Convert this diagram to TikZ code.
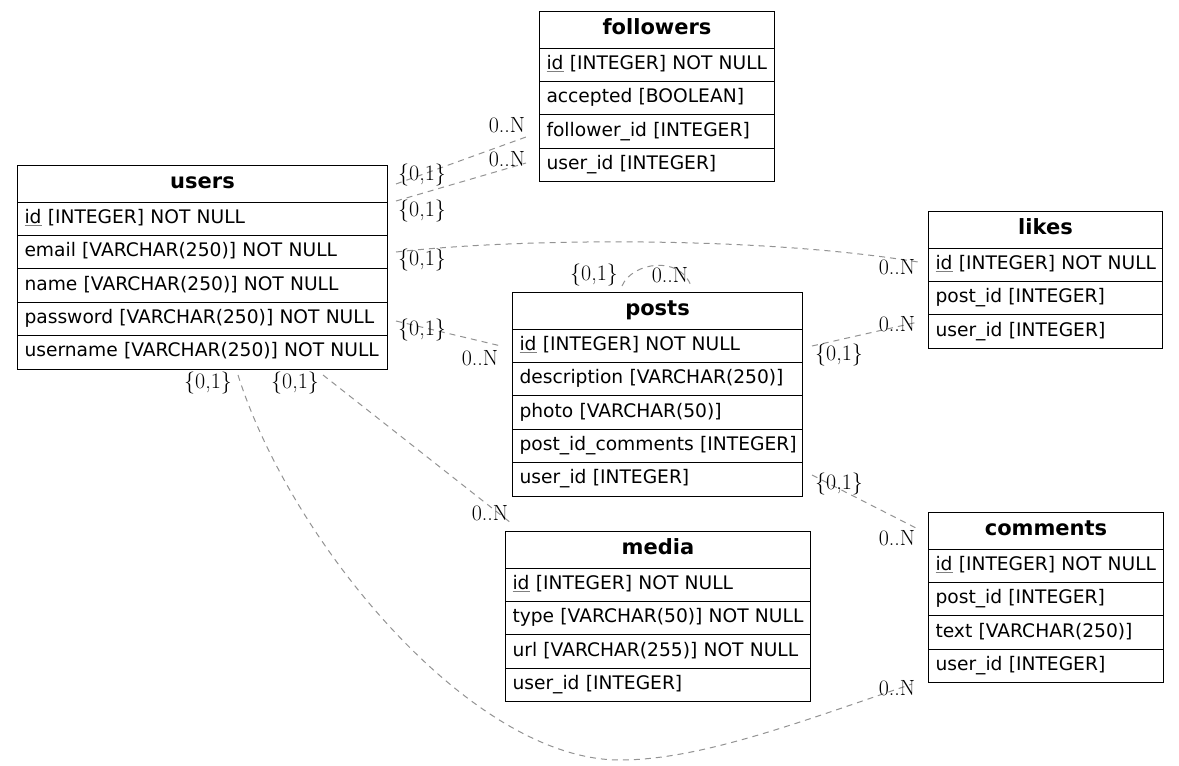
\documentclass[tikz,border=0pt]{standalone}
\usepackage{fontspec}
\newfontfamily\dejavu{DejaVu Sans}
\newcommand\pkey[1]{{\color{gray}\underline{\color{black}#1}}}
\tikzset{
  tbl/.style={draw=black, line width=0.75pt, anchor=north west, inner ysep=0pt,
    text height=10pt, text depth=3pt},
  hdrbox/.style={tbl, font=\dejavu\bfseries\fontsize{15.75pt}{17pt}\selectfont,
    align=center, inner xsep=0pt, minimum height=36.5*0.75pt},
  rowbox/.style={tbl, font=\dejavu\fontsize{14pt}{16pt}\selectfont,
    align=left, inner xsep=5.25pt, minimum height=33.4*0.75pt},
  rel/.style={draw=gray!85, dash pattern=on 4.5pt off 3.75pt, line width=0.75pt},
  card/.style={inner sep=0pt, font=\fontsize{16.5pt}{18pt}\selectfont},
}
\newcommand\ertab[6]{%
  \pgfmathsetmacro\erhw{#4*0.75}%
  \pgfmathsetmacro\errw{(#4-14)*0.75}%
  \node[hdrbox, text width=\erhw pt] (#1) at (#2,#3) {#5};
  \foreach \rowtxt [count=\ri] in {#6}{%
    \node[rowbox, text width=\errw pt] (#1-\ri) at (#2,{#3+36.5+(\ri-1)*33.4}) {\mbox{\rowtxt}\hfill};
  }%
}
\begin{document}
\begin{tikzpicture}[x=0.75pt, y=-0.75pt]
\path[use as bounding box, fill=white] (0,0) rectangle (1179,765);

\ertab{followers}{539}{11}{235}{followers}{\pkey{id} [INTEGER] NOT NULL, accepted [BOOLEAN], follower\_id [INTEGER], user\_id [INTEGER]}
\ertab{users}{17}{165}{370}{users}{\pkey{id} [INTEGER] NOT NULL, email [VARCHAR(250)] NOT NULL, name [VARCHAR(250)] NOT NULL, password [VARCHAR(250)] NOT NULL, username [VARCHAR(250)] NOT NULL}
\ertab{likes}{928}{211}{234}{likes}{\pkey{id} [INTEGER] NOT NULL, post\_id [INTEGER], user\_id [INTEGER]}
\ertab{posts}{512}{292}{290}{posts}{\pkey{id} [INTEGER] NOT NULL, description [VARCHAR(250)], photo [VARCHAR(50)], post\_id\_comments [INTEGER], user\_id [INTEGER]}
\ertab{comments}{928}{512}{235}{comments}{\pkey{id} [INTEGER] NOT NULL, post\_id [INTEGER], text [VARCHAR(250)], user\_id [INTEGER]}
\ertab{media}{505}{531}{305}{media}{\pkey{id} [INTEGER] NOT NULL, type [VARCHAR(50)] NOT NULL, url [VARCHAR(255)] NOT NULL, user\_id [INTEGER]}

% connector end points
\coordinate (uf1) at (396,184);
\coordinate (ff1) at (526,137);
\coordinate (uf2) at (396,201);
\coordinate (ff2) at (526,163);
\coordinate (ul) at (396,252);
\coordinate (lu) at (918,262);
\coordinate (up) at (396,321);
\coordinate (pu) at (501,346);
\coordinate (ps1) at (622,286);
\coordinate (ps2) at (691,286);
\coordinate (pl) at (812,346);
\coordinate (lp) at (918,322);
\coordinate (pc) at (812,475);
\coordinate (cp) at (918,529);
\coordinate (um) at (323,375);
\coordinate (mu) at (511,523);
\coordinate (uc) at (238,375);
\coordinate (cu) at (912,684);

\draw[rel] (uf1) -- (ff1);
\draw[rel] (uf2) -- (ff2);
\draw[rel] (ul) .. controls (520,238) and (760,236) .. (lu);
\draw[rel] (up) -- (pu);
\draw[rel] (ps1) .. controls (632,262) and (680,255) .. (ps2);
\draw[rel] (pl) -- (lp);
\draw[rel] (pc) -- (cp);
\draw[rel] (um) -- (mu);
\draw[rel] (uc) .. controls (290,540) and (470,760) .. (620,760)
                .. controls (700,760) and (800,722) .. (cu);

% cardinality labels
\node[card] (l1a) at (422,175) {\{0,1\}};
\node[card] (l1b) at (507,125) {0..N};
\node[card] (l2a) at (422,211) {\{0,1\}};
\node[card] (l2b) at (507,159) {0..N};
\node[card] (l3a) at (422,260) {\{0,1\}};
\node[card] (l3b) at (897,267) {0..N};
\node[card] (l4a) at (422,330) {\{0,1\}};
\node[card] (l4b) at (480,358) {0..N};
\node[card] (l5a) at (594,275) {\{0,1\}};
\node[card] (l5b) at (670,275) {0..N};
\node[card] (l6a) at (839,355) {\{0,1\}};
\node[card] (l6b) at (897,324) {0..N};
\node[card] (l7a) at (839,484) {\{0,1\}};
\node[card] (l7b) at (897,538) {0..N};
\node[card] (l8a) at (295,383) {\{0,1\}};
\node[card] (l8b) at (490,513) {0..N};
\node[card] (l9a) at (208,383) {\{0,1\}};
\node[card] (l9b) at (897,688) {0..N};
\end{tikzpicture}
\end{document}
